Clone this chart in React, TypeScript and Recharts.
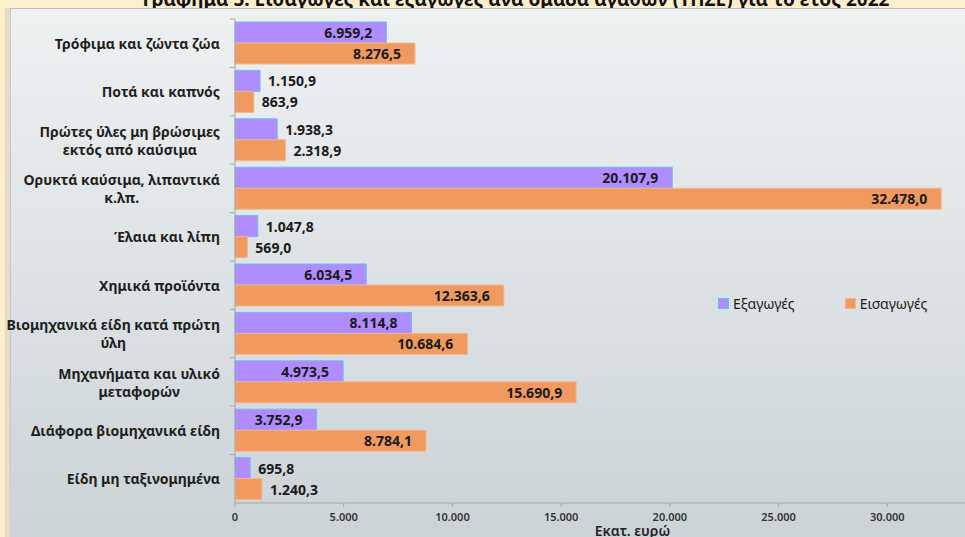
import React from 'react';
import { BarChart, Bar, XAxis, YAxis, Legend, LabelList, Label } from 'recharts';

const categories = [
  'Τρόφιμα και ζώντα ζώα',
  'Ποτά και καπνός',
  'Πρώτες ύλες μη βρώσιμες\nεκτός από καύσιμα',
  'Ορυκτά καύσιμα, λιπαντικά\nκ.λπ.',
  'Έλαια και λίπη',
  'Χημικά προϊόντα',
  'Βιομηχανικά είδη κατά πρώτη\nύλη',
  'Μηχανήματα και υλικό\nμεταφορών',
  'Διάφορα βιομηχανικά είδη',
  'Είδη μη ταξινομημένα',
];
const exportValues = [6959.2, 1150.9, 1938.3, 20107.9, 1047.8, 6034.5, 8114.8, 4973.5, 3752.9, 695.8];
const importValues = [8276.5, 863.9, 2318.9, 32478.0, 569.0, 12363.6, 10684.6, 15690.9, 8784.1, 1240.3];
const xTicks = [0, 5000, 10000, 15000, 20000, 25000, 30000];
const seriesNames = ['Εξαγωγές', 'Εισαγωγές'];
const title = 'Γράφημα 5: Εισαγωγές και εξαγωγές ανά ομάδα αγαθών (ΤΠΣΕ) για το έτος 2022';
const axisTitle = 'Εκατ. ευρώ';

const data = categories.map((name, i) => ({ name, exports: exportValues[i], imports: importValues[i] }));

const FONT = '"Noto Sans", "DejaVu Sans", sans-serif';
const EXPORT_FILL = '#B18CFE';
const EXPORT_STROKE = '#63C0F2';
const IMPORT_FILL = '#F19A5F';
const IMPORT_STROKE = '#F6B68A';

const CHART_W = 1000;
const CHART_H = 537;
const MARGIN = { top: 19, right: 4, bottom: 0, left: 0 };
const X_AXIS_H = 34;
const Y_AXIS_W = 235;
const BAND = (CHART_H - MARGIN.top - MARGIN.bottom - X_AXIS_H) / categories.length;

const groupNum = (s: string) => s.replace(/\B(?=(\d{3})+(?!\d))/g, '.');
const fmtValue = (v: number) => {
  const [i, d] = v.toFixed(1).split('.');
  return groupNum(i) + ',' + d;
};
const fmtTick = (v: number) => groupNum(String(v));

let ctx: CanvasRenderingContext2D | null = null;
const measure = (text: string, font: string) => {
  if (!ctx) ctx = document.createElement('canvas').getContext('2d');
  if (!ctx) return text.length * 8;
  ctx.font = font;
  return ctx.measureText(text).width;
};

const CategoryTick = (props: any) => {
  const { x, y, payload } = props;
  const lines = String(payload.value).split('\n');
  const font = `bold 14px ${FONT}`;
  const maxW = Math.max(...lines.map((l) => measure(l, font)));
  const cx = x - maxW / 2;
  const lh = 18;
  const axisX = x + 15;
  return (
    <g>
      <line x1={axisX - 5} x2={axisX} y1={y - BAND / 2} y2={y - BAND / 2} stroke="#A6A6A6" />
      {lines.map((l, i) => (
        <text
          key={i}
          x={cx}
          y={y + (i - (lines.length - 1) / 2) * lh}
          textAnchor="middle"
          dominantBaseline="central"
          fontFamily={FONT}
          fontSize={14}
          fontWeight="bold"
          fill="#1F1F1F"
        >
          {l}
        </text>
      ))}
    </g>
  );
};

const ValueLabel = (props: any) => {
  const { x, y, width, height, value } = props;
  const inside = value > 3000;
  const tx = inside ? x + width - 14 : x + width + 8;
  return (
    <text
      x={tx}
      y={y + height / 2}
      textAnchor={inside ? 'end' : 'start'}
      dominantBaseline="central"
      fontFamily={FONT}
      fontSize={14}
      fontWeight="bold"
      fill="#1A1A1A"
    >
      {fmtValue(value)}
    </text>
  );
};

const legendStyles: Record<string, { fill: string; stroke: string }> = {
  [seriesNames[0]]: { fill: EXPORT_FILL, stroke: EXPORT_STROKE },
  [seriesNames[1]]: { fill: IMPORT_FILL, stroke: IMPORT_STROKE },
};

const renderLegend = (props: any) => {
  const items = [...(props.payload || [])].sort(
    (a: any, b: any) => seriesNames.indexOf(a.value) - seriesNames.indexOf(b.value)
  );
  return (
    <div style={{ display: 'flex', fontFamily: FONT, fontSize: 14, color: '#1A1A1A' }}>
      {items.map((item: any, i: number) => {
        const st = legendStyles[item.value] || { fill: item.color, stroke: item.color };
        return (
          <div key={i} style={{ display: 'flex', alignItems: 'center', marginRight: 50 }}>
            <span
              style={{
                display: 'inline-block',
                width: 9,
                height: 9,
                background: st.fill,
                border: `1px solid ${st.stroke}`,
                marginRight: 4,
              }}
            />
            <span>{item.value}</span>
          </div>
        );
      })}
    </div>
  );
};

export default function App() {
  return (
    <div
      style={{
        position: 'fixed',
        left: 0,
        top: 0,
        width: 965,
        height: 537,
        overflow: 'hidden',
        background: '#FDEFCD',
      }}
    >
      <svg width={965} height={8} style={{ position: 'absolute', left: 0, top: 0 }}>
        <text
          x={516}
          y={6}
          textAnchor="middle"
          fontFamily={FONT}
          fontSize={19}
          fontWeight="bold"
          fill="#111"
        >
          {title}
        </text>
      </svg>
      <div style={{ position: 'absolute', left: 5, top: 8, width: 5, height: 529, background: '#E6DCC6' }} />
      <div
        style={{
          position: 'absolute',
          left: 10,
          top: 8,
          width: 960,
          height: 535,
          background: 'linear-gradient(#EEF1F2, #CBD3D7)',
          borderTop: '1px solid #BDBDBD',
          borderLeft: '1px solid #C8C8C8',
        }}
      />
      <div style={{ position: 'absolute', left: 0, top: 0 }}>
        <BarChart
          width={CHART_W}
          height={CHART_H}
          data={data}
          layout="vertical"
          margin={MARGIN}
          barSize={21}
          barGap={0}
        >
          <XAxis
            type="number"
            domain={[0, 35000]}
            ticks={xTicks}
            tickFormatter={fmtTick}
            height={X_AXIS_H}
            stroke="#A6A6A6"
            tickSize={4}
            tick={{ fill: '#333', fontSize: 11, fontWeight: 600, fontFamily: FONT }}
            tickMargin={6}
          >
            <Label
              value={axisTitle}
              position="insideBottom"
              offset={1}
              dx={17}
              style={{ fontFamily: FONT, fontSize: 14, fontWeight: 600, fill: '#222' }}
            />
          </XAxis>
          <YAxis
            type="category"
            dataKey="name"
            width={Y_AXIS_W}
            stroke="#A6A6A6"
            tickLine={false}
            tickSize={0}
            tickMargin={15}
            tick={<CategoryTick />}
            interval={0}
          />
          <Legend
            layout="horizontal"
            verticalAlign="middle"
            align="center"
            content={renderLegend}
            wrapperStyle={{ left: 718, top: 294, width: 260 }}
          />
          <Bar
            dataKey="exports"
            name={seriesNames[0]}
            fill={EXPORT_FILL}
            stroke={EXPORT_STROKE}
            strokeWidth={1}
            isAnimationActive={false}
          >
            <LabelList dataKey="exports" content={<ValueLabel />} />
          </Bar>
          <Bar
            dataKey="imports"
            name={seriesNames[1]}
            fill={IMPORT_FILL}
            stroke={IMPORT_STROKE}
            strokeWidth={1}
            isAnimationActive={false}
          >
            <LabelList dataKey="imports" content={<ValueLabel />} />
          </Bar>
        </BarChart>
      </div>
    </div>
  );
}
